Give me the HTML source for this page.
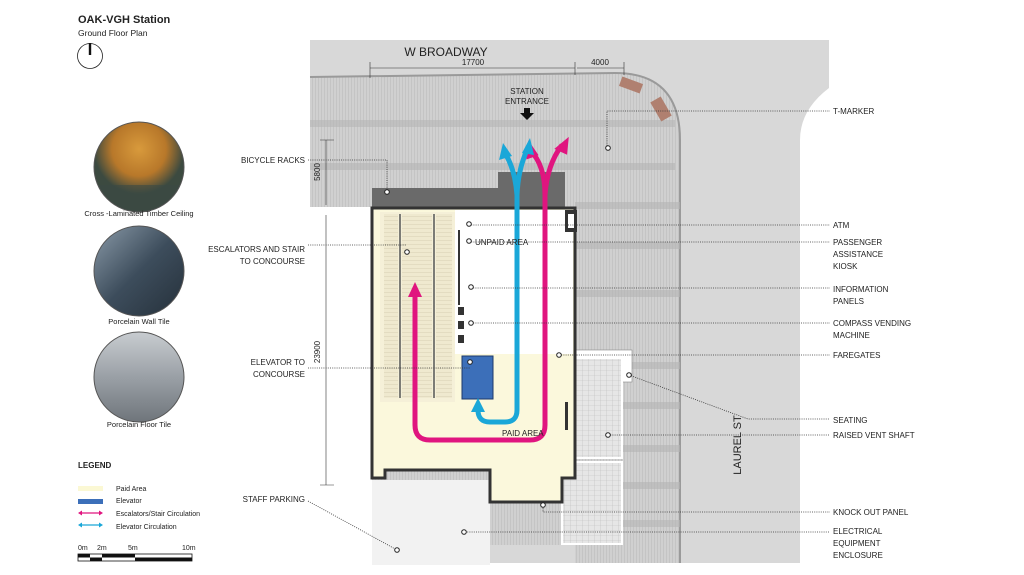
<!DOCTYPE html>
<html><head><meta charset="utf-8"><style>
html,body{margin:0;padding:0;background:#fff;width:1024px;height:575px;overflow:hidden}
svg{display:block}
text{font-family:"Liberation Sans",sans-serif;fill:#222}
</style></head><body>
<svg width="1024" height="575" viewBox="0 0 1024 575" xmlns="http://www.w3.org/2000/svg">
<defs>
<pattern id="vl" width="3" height="10" patternUnits="userSpaceOnUse"><rect width="3" height="10" fill="#d0d0d0"/><rect width="1" height="10" fill="#c4c4c4"/></pattern>
<pattern id="grid" width="6" height="5" patternUnits="userSpaceOnUse"><rect width="6" height="5" fill="#e6e6e6"/><path d="M0 0H6M0 0V5" stroke="#bcbcbc" stroke-width="0.6"/></pattern>
<pattern id="esc" width="10" height="4" patternUnits="userSpaceOnUse"><rect width="10" height="4" fill="#efe9cf"/><path d="M0 0H10" stroke="#c8c0a0" stroke-width="0.6"/></pattern>
<radialGradient id="g1" cx="50%" cy="30%"><stop offset="0" stop-color="#d89a3c"/><stop offset="0.6" stop-color="#b8782a"/><stop offset="1" stop-color="#3c4a40"/></radialGradient>
<linearGradient id="g2" x1="0" y1="0" x2="1" y2="1"><stop offset="0" stop-color="#8a9aa8"/><stop offset="0.5" stop-color="#3d4d5c"/><stop offset="1" stop-color="#25303a"/></linearGradient>
<linearGradient id="g3" x1="0" y1="0" x2="0" y2="1"><stop offset="0" stop-color="#c8ccd0"/><stop offset="0.5" stop-color="#9aa0a6"/><stop offset="1" stop-color="#6f757b"/></linearGradient>
<clipPath id="c1"><circle cx="139" cy="167" r="45"/></clipPath>
</defs>

<path d="M310 40 H829 V88 Q800 110 800 140 V563 H455 V545 H310 Z" fill="#d8d8d8"/>
<path d="M310 77 L615 73 Q680 73 680 140 V563 H575 V545 H310 Z" fill="url(#vl)"/>
<path d="M310 77 L615 73 Q680 73 680 140 V563" fill="none" stroke="#9a9a9a" stroke-width="2"/>
<g fill="#b5b5b5" opacity="0.6">
<rect x="310" y="120" width="365" height="7"/><rect x="310" y="163" width="365" height="7"/>
<rect x="575" y="202" width="105" height="7"/><rect x="575" y="242" width="105" height="7"/>
<rect x="575" y="290" width="105" height="7"/><rect x="575" y="362" width="105" height="7"/>
<rect x="575" y="402" width="105" height="7"/><rect x="575" y="445" width="105" height="7"/>
<rect x="575" y="482" width="105" height="7"/><rect x="575" y="520" width="105" height="7"/>
</g>
<rect x="655" y="98" width="12" height="22" fill="#b08070" transform="rotate(-30 661 109)"/>
<rect x="620" y="80" width="22" height="10" fill="#b08070" transform="rotate(20 631 85)"/>
<rect x="300" y="207" width="72" height="340" fill="#fff"/>
<rect x="372" y="480" width="118" height="85" fill="#f2f2f2"/>
<rect x="565" y="350" width="67" height="32" fill="#fff" stroke="#888" stroke-width="0.6"/>
<rect x="562" y="358" width="60" height="100" fill="url(#grid)" stroke="#fff" stroke-width="2"/>
<rect x="562" y="462" width="60" height="82" fill="url(#grid)" stroke="#fff" stroke-width="2"/>
<rect x="372" y="188" width="126" height="20" fill="#6a6a6a"/>
<rect x="498" y="172" width="67" height="36" fill="#6a6a6a"/>
<path d="M372 208 H575 V478 H562 V502 H490 V470 H385 V478 H372 Z" fill="#fbf8dc" stroke="#333" stroke-width="3"/>
<path d="M455 210 H573 V354 H455 Z" fill="#fff"/>
<rect x="380" y="212" width="75" height="190" fill="#f5f0d8"/>
<rect x="402" y="214" width="30" height="184" fill="url(#esc)"/>
<rect x="384" y="214" width="14" height="184" fill="url(#esc)"/>
<rect x="436" y="214" width="16" height="184" fill="url(#esc)"/>
<path d="M400 214V398M434 214V398" stroke="#555" stroke-width="1.5"/>
<rect x="458" y="230" width="2" height="75" fill="#333"/>
<rect x="458" y="307" width="6" height="8" fill="#333"/><rect x="458" y="321" width="6" height="8" fill="#333"/><rect x="458" y="335" width="6" height="8" fill="#333"/>
<rect x="462" y="356" width="31" height="43" fill="#3c6fb9" stroke="#1e3a6a"/>
<rect x="565" y="210" width="12" height="22" fill="#333"/><rect x="568" y="214" width="6" height="14" fill="#fff"/>
<rect x="565" y="402" width="3" height="28" fill="#333"/>
<g fill="none" stroke="#e0157f" stroke-width="5">
<path d="M415 295 V425 Q415 440 430 440 H530 Q545 440 545 425 V190"/>
<path d="M545 195 Q545 165 530 150"/><path d="M545 195 Q547 165 562 145"/>
</g>
<g fill="#e0157f">
<path d="M408 297 L415 282 L422 297Z"/>
<path d="M524 158 L531 140 L537 157Z" transform="rotate(-15 531 150)"/>
<path d="M557 153 L565 136 L571 153Z" transform="rotate(25 565 145)"/>
</g>
<g fill="none" stroke="#1aa7d8" stroke-width="5">
<path d="M478 410 Q478 422 490 422 H505 Q517 422 517 410 V190"/>
<path d="M517 195 Q515 170 506 155"/><path d="M517 195 Q518 170 527 150"/>
</g>
<g fill="#1aa7d8">
<path d="M471 412 L478 398 L485 412Z"/>
<path d="M499 160 L503 143 L512 156Z"/>
<path d="M522 153 L530 138 L534 155Z"/>
</g>
<text x="475" y="245" font-size="8">UNPAID AREA</text>
<text x="502" y="436" font-size="8">PAID AREA</text>
<text x="527" y="94" font-size="8" text-anchor="middle">STATION</text>
<text x="527" y="104" font-size="8" text-anchor="middle">ENTRANCE</text>
<path d="M524 108 H530 V113 H534 L527 120 L520 113 H524Z" fill="#111"/>
<text x="446" y="56" font-size="12" text-anchor="middle">W BROADWAY</text>
<g stroke="#333" stroke-width="0.6" fill="none">
<path d="M370 68 H575 M577 68 H624 M370 62 V78 M575 62 V75 M624 62 V75"/>
<path d="M326 140 V205 M320 140 H334 M326 215 V485 M320 485 H334"/>
</g>
<text x="473" y="65" font-size="8" text-anchor="middle">17700</text>
<text x="600" y="65" font-size="8" text-anchor="middle">4000</text>
<text x="320" y="172" font-size="8" text-anchor="middle" transform="rotate(-90 320 172)">5800</text>
<text x="320" y="352" font-size="8" text-anchor="middle" transform="rotate(-90 320 352)">23900</text>
<text x="741" y="445" font-size="11" text-anchor="middle" transform="rotate(-90 741 445)">LAUREL ST</text>
<g stroke="#333" stroke-width="0.8" stroke-dasharray="1 1.2" fill="none">
<path d="M308 160 H387 V192"/>
<path d="M308 245 H407"/>
<path d="M308 368 H470"/>
<path d="M308 501 L397 550"/>
<path d="M607 148 V111 H830"/>
<path d="M469 225 H830"/><path d="M469 242 H830"/><path d="M471 288 H830"/><path d="M471 323 H830"/>
<path d="M559 355 H830"/>
<path d="M629 375 L748 419 H830"/>
<path d="M608 435 H830"/>
<path d="M543 506 V512 H830"/>
<path d="M465 532 H830"/>
</g>
<g fill="#fff" stroke="#222" stroke-width="1">
<circle cx="387" cy="192" r="2.3"/><circle cx="407" cy="252" r="2.3"/><circle cx="470" cy="362" r="2.3"/>
<circle cx="397" cy="550" r="2.3"/><circle cx="608" cy="148" r="2.3"/><circle cx="469" cy="224" r="2.3"/>
<circle cx="469" cy="241" r="2.3"/><circle cx="471" cy="287" r="2.3"/><circle cx="471" cy="323" r="2.3"/>
<circle cx="559" cy="355" r="2.3"/><circle cx="629" cy="375" r="2.3"/><circle cx="608" cy="435" r="2.3"/>
<circle cx="543" cy="505" r="2.3"/><circle cx="464" cy="532" r="2.3"/>
</g>
<g>
<text x="305" y="163" text-anchor="end" font-size="8">BICYCLE RACKS</text>
<text x="305" y="252" text-anchor="end" font-size="8">ESCALATORS AND STAIR</text>
<text x="305" y="264" text-anchor="end" font-size="8">TO CONCOURSE</text>
<text x="305" y="365" text-anchor="end" font-size="8">ELEVATOR TO</text>
<text x="305" y="377" text-anchor="end" font-size="8">CONCOURSE</text>
<text x="305" y="502" text-anchor="end" font-size="8">STAFF PARKING</text>
<text x="833" y="114" font-size="8">T-MARKER</text>
<text x="833" y="228" font-size="8">ATM</text>
<text x="833" y="245" font-size="8">PASSENGER</text>
<text x="833" y="257" font-size="8">ASSISTANCE</text>
<text x="833" y="269" font-size="8">KIOSK</text>
<text x="833" y="292" font-size="8">INFORMATION</text>
<text x="833" y="304" font-size="8">PANELS</text>
<text x="833" y="326" font-size="8">COMPASS VENDING</text>
<text x="833" y="338" font-size="8">MACHINE</text>
<text x="833" y="358" font-size="8">FAREGATES</text>
<text x="833" y="423" font-size="8">SEATING</text>
<text x="833" y="438" font-size="8">RAISED VENT SHAFT</text>
<text x="833" y="515" font-size="8">KNOCK OUT PANEL</text>
<text x="833" y="534" font-size="8">ELECTRICAL</text>
<text x="833" y="546" font-size="8">EQUIPMENT</text>
<text x="833" y="558" font-size="8">ENCLOSURE</text>
</g>
<text x="78" y="23" font-size="11" font-weight="bold">OAK-VGH Station</text>
<text x="78" y="36" font-size="8.5">Ground Floor Plan</text>
<circle cx="90" cy="56" r="12.5" fill="none" stroke="#222" stroke-width="0.8"/>
<rect x="88.8" y="43" width="2.4" height="12" fill="#111"/>
<circle cx="139" cy="167" r="45" fill="url(#g1)"/>
<rect x="94" y="185" width="90" height="30" fill="#3a4a44" opacity="0.6" clip-path="url(#c1)"/>
<circle cx="139" cy="167" r="45" fill="none" stroke="#555"/>
<text x="139" y="216" font-size="7.5" text-anchor="middle">Cross -Laminated Timber Ceiling</text>
<circle cx="139" cy="271" r="45" fill="url(#g2)" stroke="#555"/>
<text x="139" y="324" font-size="7.5" text-anchor="middle">Porcelain Wall Tile</text>
<circle cx="139" cy="377" r="45" fill="url(#g3)" stroke="#555"/>
<text x="139" y="427" font-size="7.5" text-anchor="middle">Porcelain Floor Tile</text>
<text x="78" y="468" font-size="8" font-weight="bold">LEGEND</text>
<rect x="78" y="486" width="25" height="5" fill="#fbf8d4"/>
<rect x="78" y="499" width="25" height="5" fill="#3c6fb9"/>
<g stroke-width="1.2"><path d="M80 513H101" stroke="#e0157f"/><path d="M80 525H101" stroke="#1aa7d8"/></g>
<path d="M78 513l4-2.5v5z M103 513l-4-2.5v5z" fill="#e0157f"/>
<path d="M78 525l4-2.5v5z M103 525l-4-2.5v5z" fill="#1aa7d8"/>
<text x="116" y="491" font-size="7">Paid Area</text>
<text x="116" y="503" font-size="7">Elevator</text>
<text x="116" y="516" font-size="7">Escalators/Stair Circulation</text>
<text x="116" y="529" font-size="7">Elevator Circulation</text>
<text x="78" y="550" font-size="7">0m</text><text x="97" y="550" font-size="7">2m</text>
<text x="128" y="550" font-size="7">5m</text><text x="182" y="550" font-size="7">10m</text>
<rect x="78" y="554" width="114" height="7" fill="#fff" stroke="#111" stroke-width="0.8"/>
<rect x="78" y="554" width="12" height="3.5" fill="#111"/><rect x="90" y="557.5" width="12" height="3.5" fill="#111"/>
<rect x="102" y="554" width="33" height="3.5" fill="#111"/><rect x="135" y="557.5" width="57" height="3.5" fill="#111"/>
</svg>
</body></html>
